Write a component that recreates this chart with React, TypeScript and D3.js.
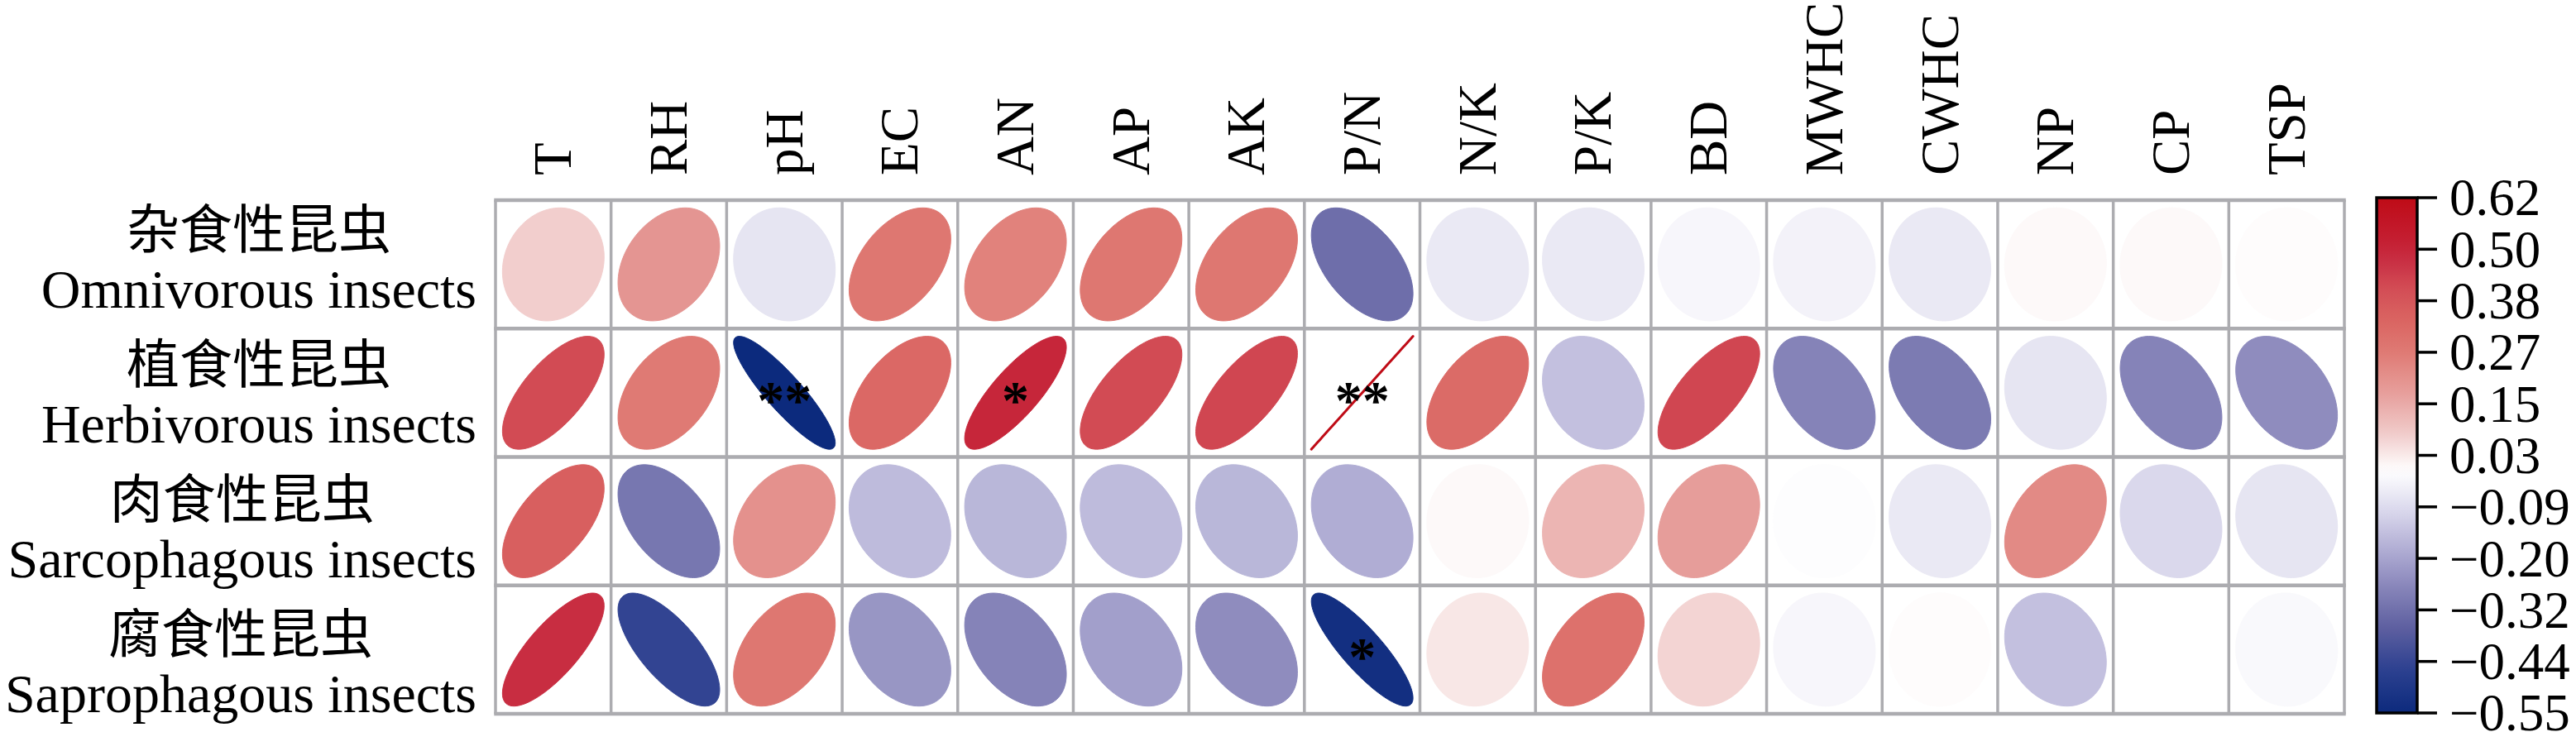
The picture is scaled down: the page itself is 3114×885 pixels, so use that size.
import React, { useEffect, useRef } from 'react';
import * as d3 from 'd3';

// ---------------- data ----------------
const columns = ['T', 'RH', 'pH', 'EC', 'AN', 'AP', 'AK', 'P/N', 'N/K', 'P/K', 'BD', 'MWHC', 'CWHC', 'NP', 'CP', 'TSP'];
const rowNamesCn = ['杂食性昆虫', '植食性昆虫', '肉食性昆虫', '腐食性昆虫'];
const rowNamesEn = ['Omnivorous insects', 'Herbivorous insects', 'Sarcophagous insects', 'Saprophagous insects'];

const omnivorous = [0.08, 0.2, -0.06, 0.28, 0.25, 0.28, 0.28, -0.32, -0.05, -0.05, -0.02, -0.03, -0.05, 0.01, 0.01, 0.005];
const herbivorous = [0.42, 0.27, -0.55, 0.33, 0.5, 0.42, 0.43, 0.62, 0.32, -0.14, 0.43, -0.27, -0.29, -0.06, -0.27, -0.25];
const sarcophagous = [0.36, -0.3, 0.21, -0.15, -0.16, -0.15, -0.16, -0.18, 0.01, 0.13, 0.18, -0.005, -0.05, 0.23, -0.09, -0.06];
const saprophagous = [0.48, -0.44, 0.28, -0.23, -0.27, -0.21, -0.25, -0.53, 0.04, 0.3, 0.07, -0.02, 0.005, -0.14, 0.0, -0.015];

const sigOmnivorous = ['', '', '', '', '', '', '', '', '', '', '', '', '', '', '', ''];
const sigHerbivorous = ['', '', '**', '', '*', '', '', '**', '', '', '', '', '', '', '', ''];
const sigSarcophagous = ['', '', '', '', '', '', '', '', '', '', '', '', '', '', '', ''];
const sigSaprophagous = ['', '', '', '', '', '', '', '*', '', '', '', '', '', '', '', ''];

const colorbarTicks = ['0.62', '0.50', '0.38', '0.27', '0.15', '0.03', '\u22120.09', '\u22120.20', '\u22120.32', '\u22120.44', '\u22120.55'];
const colorLimits = [-0.55, 0.62];

// ---------------- styles ----------------
const colorStops = [
  [-0.55, '#0c2a7d'],
  [-0.45, '#2d4190'],
  [-0.36, '#5c5e9f'],
  [-0.27, '#8583b8'],
  [-0.18, '#b0add4'],
  [-0.09, '#dad8ec'],
  [0, '#ffffff'],
  [0.09, '#f0c8c7'],
  [0.18, '#e69d9a'],
  [0.27, '#df7a74'],
  [0.34, '#da6562'],
  [0.42, '#d24b54'],
  [0.47, '#c93145'],
  [0.52, '#c41f33'],
  [0.62, '#bf0b16'],
] as [number, string][];

const W = 3114;
const H = 885;
const gridLeft = 599;
const gridRight = 2834;
const gridTop = 242;
const gridBottom = 863;
const serif = "'Liberation Serif', 'Times New Roman', serif";
const cjk = "'Noto Sans CJK SC', 'Noto Sans CJK TC', sans-serif";

export default function App() {
  const ref = useRef<SVGSVGElement | null>(null);

  useEffect(() => {
    document.body.style.margin = '0';
    const svg = d3.select(ref.current);
    svg.selectAll('*').remove();

    const data = [omnivorous, herbivorous, sarcophagous, saprophagous];
    const sig = [sigOmnivorous, sigHerbivorous, sigSarcophagous, sigSaprophagous];

    const x = d3.scaleBand<string>().domain(columns).range([gridLeft, gridRight]).padding(0);
    const y = d3.scaleBand<string>().domain(rowNamesEn).range([gridTop, gridBottom]).padding(0);
    const color = d3
      .scaleLinear<string>()
      .domain(colorStops.map((d) => d[0]))
      .range(colorStops.map((d) => d[1]))
      .interpolate(d3.interpolateRgb)
      .clamp(true);
    const maxAbs = Math.max(Math.abs(colorLimits[0]), Math.abs(colorLimits[1]));

    const bw = x.bandwidth();
    const bh = y.bandwidth();
    const s = 0.88;

    const g = svg.append('g');
    g.append('rect')
      .attr('x', gridLeft)
      .attr('y', gridTop)
      .attr('width', gridRight - gridLeft)
      .attr('height', gridBottom - gridTop)
      .attr('fill', '#fff');

    // ellipses (corrplot "ellipse" method)
    const line = d3.line().curve(d3.curveLinearClosed);
    data.forEach((row, ri) => {
      const rowName = rowNamesEn[ri];
      row.forEach((v, ci) => {
        const cx = (x(columns[ci]) as number) + bw / 2;
        const cy = (y(rowName) as number) + bh / 2;
        const rn = Math.max(-1, Math.min(1, v / maxAbs));
        const dd = Math.acos(rn);
        const pts: [number, number][] = d3.range(100).map((i) => {
          const k = (i / 99) * 2 * Math.PI;
          return [cx + (Math.cos(k + dd / 2) / 2) * bw * s, cy - (Math.cos(k - dd / 2) / 2) * bh * s];
        });
        const c = color(v);
        g.append('path')
          .attr('d', line(pts) as string)
          .attr('fill', c)
          .attr('stroke', c)
          .attr('stroke-width', Math.abs(rn) > 0.98 ? 3 : 1)
          .attr('stroke-linejoin', 'round');
      });
    });

    // grid lines
    const gridColor = '#acacb0';
    [...columns.map((c) => x(c) as number), gridRight].forEach((xx) => {
      g.append('line')
        .attr('x1', xx)
        .attr('x2', xx)
        .attr('y1', gridTop)
        .attr('y2', gridBottom)
        .attr('stroke', gridColor)
        .attr('stroke-width', 3.5);
    });
    [...rowNamesEn.map((r) => y(r) as number), gridBottom].forEach((yy) => {
      g.append('line')
        .attr('x1', gridLeft - 1.75)
        .attr('x2', gridRight + 1.75)
        .attr('y1', yy)
        .attr('y2', yy)
        .attr('stroke', gridColor)
        .attr('stroke-width', 4.5);
    });

    // significance stars
    const starSize = 66;
    sig.forEach((row, ri) => {
      row.forEach((st, ci) => {
        if (!st) return;
        const cx = (x(columns[ci]) as number) + bw / 2;
        const cy = (y(rowNamesEn[ri]) as number) + bh / 2;
        g.append('text')
          .attr('x', cx)
          .attr('y', cy - 2 + starSize * 0.5)
          .attr('text-anchor', 'middle')
          .attr('font-family', serif)
          .attr('font-size', starSize)
          .attr('font-weight', 'bold')
          .attr('fill', '#000')
          .text(st);
      });
    });

    // column labels
    columns.forEach((c) => {
      const cx = (x(c) as number) + bw / 2;
      svg
        .append('text')
        .attr('transform', `translate(${cx},212) rotate(-90)`)
        .attr('x', 0)
        .attr('y', 0)
        .attr('dy', '0.33em')
        .attr('text-anchor', 'start')
        .attr('font-family', serif)
        .attr('font-size', 65)
        .attr('fill', '#000')
        .text(c);
    });

    // row labels
    const labelRight = 576;
    rowNamesEn.forEach((en, i) => {
      const base = 372 + 163 * i;
      const tEn = svg
        .append('text')
        .attr('x', labelRight)
        .attr('y', base)
        .attr('text-anchor', 'end')
        .attr('font-family', serif)
        .attr('font-size', 66)
        .attr('fill', '#000')
        .text(en);
      const wEn = (tEn.node() as SVGTextElement).getComputedTextLength();
      const center = labelRight - wEn / 2;
      svg
        .append('text')
        .attr('x', center)
        .attr('y', base - 72)
        .attr('text-anchor', 'middle')
        .attr('font-family', cjk)
        .attr('font-size', 64)
        .attr('fill', '#000')
        .text(rowNamesCn[i]);
    });

    // colour bar
    const cbLeft = 2873;
    const cbRight = 2922;
    const cbTop = 239;
    const cbBottom = 862;
    const cbY = d3.scaleLinear().domain(colorLimits).range([cbBottom, cbTop]);
    const defs = svg.append('defs');
    const grad = defs
      .append('linearGradient')
      .attr('id', 'cbgrad')
      .attr('x1', 0)
      .attr('y1', 1)
      .attr('x2', 0)
      .attr('y2', 0);
    d3.range(0, 1.0001, 0.02).forEach((t) => {
      const v = colorLimits[0] + t * (colorLimits[1] - colorLimits[0]);
      grad.append('stop').attr('offset', t).attr('stop-color', color(v));
    });
    svg
      .append('rect')
      .attr('x', cbLeft)
      .attr('y', cbY(colorLimits[1]))
      .attr('width', cbRight - cbLeft)
      .attr('height', cbY(colorLimits[0]) - cbY(colorLimits[1]))
      .attr('fill', 'url(#cbgrad)')
      .attr('stroke', '#000')
      .attr('stroke-width', 3.5);

    const tickPos = d3.scalePoint<string>().domain(colorbarTicks).range([cbTop, cbBottom]);
    colorbarTicks.forEach((t) => {
      const ty = tickPos(t) as number;
      svg
        .append('line')
        .attr('x1', cbRight)
        .attr('x2', 2946)
        .attr('y1', ty)
        .attr('y2', ty)
        .attr('stroke', '#000')
        .attr('stroke-width', 3.5);
      svg
        .append('text')
        .attr('x', 2961)
        .attr('y', ty)
        .attr('dy', '0.34em')
        .attr('font-family', serif)
        .attr('font-size', 63)
        .attr('fill', '#000')
        .text(t);
    });
  }, []);

  return (
    <svg
      ref={ref}
      width={W}
      height={H}
      viewBox={`0 0 ${W} ${H}`}
      style={{ position: 'absolute', left: 0, top: 0, background: '#fff', display: 'block' }}
    />
  );
}
